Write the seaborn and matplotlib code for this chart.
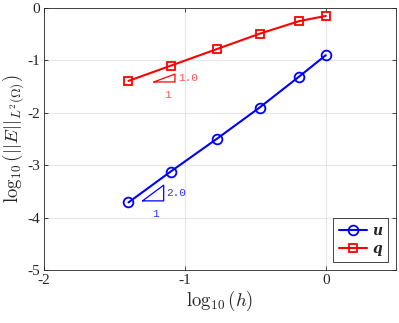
import numpy as np
import pandas as pd
import matplotlib
matplotlib.use("Agg")
import matplotlib.pyplot as plt
import seaborn as sns

sns.set_theme(style="whitegrid")
plt.rcParams['axes.unicode_minus'] = False
plt.rcParams['mathtext.fontset'] = 'cm'
plt.rcParams['font.family'] = ['Liberation Serif', 'DejaVu Serif']

# data (log10 values)
log_h = [-1.40, -1.10, -0.77, -0.47, -0.19, 0.0]
err_u = [-3.71, -3.12, -2.49, -1.90, -1.31, -0.90]
err_q = [-1.39, -1.10, -0.78, -0.49, -0.25, -0.15]

# slope triangles: (x0, y0, run, slope, label)
tri_q = (-1.22, -1.41, 0.15, 1.0, "1.0")
tri_u = (-1.30, -3.68, 0.15, 2.0, "2.0")

x_ticks = [-2, -1, 0]
y_ticks = [-5, -4, -3, -2, -1, 0]

df_u = pd.DataFrame({"h": log_h, "err": err_u})
df_q = pd.DataFrame({"h": log_h, "err": err_q})

fig = plt.figure(figsize=(3.99, 3.23), dpi=100)
ax = fig.add_axes([0.110, 0.164, 0.883, 0.811])

sns.lineplot(data=df_u, x="h", y="err", ax=ax, color="#0000ff", lw=1.5,
             marker="o", ms=7, mfc="none", mec="#0000ff", mew=1.3, label="u")
sns.lineplot(data=df_q, x="h", y="err", ax=ax, color="#ff0000", lw=1.5,
             marker="s", ms=6, mfc="none", mec="#ff0000", mew=1.3, label="q")

def slope_triangle(tri, color, txtcolor):
    x0, y0, run, slope, lab = tri
    xs = [x0, x0 + run, x0 + run, x0]
    ys = [y0, y0, y0 + slope * run, y0]
    ax.plot(xs, ys, color=color, lw=0.9)
    ax.text(x0 + run + 0.02, y0 + slope * run / 2, lab, color=txtcolor,
            family=['Liberation Mono', 'DejaVu Sans Mono'], fontsize=8,
            ha='left', va='center')
    ax.text(x0 + run / 2 + 0.02, y0 - 0.25, "1", color=txtcolor,
            family=['Liberation Mono', 'DejaVu Sans Mono'], fontsize=8,
            ha='center', va='center')

slope_triangle(tri_q, "#ff0000", "#ff5555")
slope_triangle(tri_u, "#0000ff", "#3333ff")

ax.set_xlim(-2, 0.5)
ax.set_ylim(-5, 0)
ax.set_xticks(x_ticks)
ax.set_yticks(y_ticks)
ax.set_xticklabels([str(t) for t in x_ticks], fontsize=11)
ax.set_yticklabels([str(t) for t in y_ticks], fontsize=11)
ax.set_xlabel(r"$\log_{10}(h)$", fontsize=13.5, labelpad=1)
ax.set_ylabel(r"$\log_{10}(||E||_{L^2(\Omega)})$", fontsize=13.5, labelpad=1)

ax.grid(True, color="#e6e6e6", lw=0.8)
for s in ax.spines.values():
    s.set_visible(True)
    s.set_color("#262626")
    s.set_linewidth(0.6)
ax.tick_params(direction='in', length=3, width=0.6, color="#262626",
               top=True, right=True, bottom=True, left=True, pad=3,
               labelcolor="#262626")

leg = ax.legend(loc="lower right", frameon=True, fancybox=False,
                prop={'family': 'DejaVu Serif', 'style': 'italic',
                      'weight': 'bold', 'size': 10},
                handlelength=2.0, borderaxespad=0.6, handletextpad=0.4,
                labelspacing=0.3, borderpad=0.4)
leg.get_frame().set_edgecolor("#262626")
leg.get_frame().set_linewidth(0.6)
leg.get_frame().set_alpha(1)

fig.savefig("out.png", dpi=100)
